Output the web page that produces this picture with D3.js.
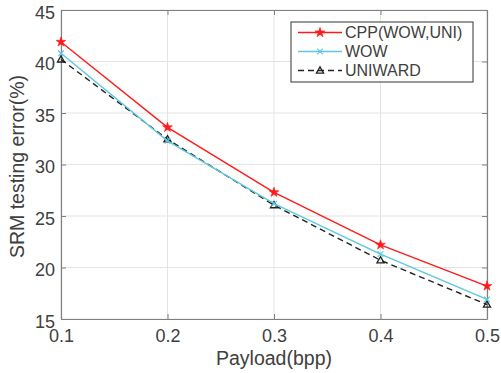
<!DOCTYPE html>
<html><head><meta charset="utf-8">
<script src="https://cdn.jsdelivr.net/npm/d3@7"></script>
<style>body{margin:0;background:#fff}svg{display:block}text{font-family:"Liberation Sans",Arial,sans-serif}</style>
</head><body><svg id="c" width="501" height="373"></svg>
<script>
const payload = [0.1, 0.2, 0.3, 0.4, 0.5];
const cpp = [41.9, 33.6, 27.3, 22.2, 18.2];
const wow = [40.8, 32.3, 26.2, 21.3, 16.9];
const uniward = [40.2, 32.45, 26.05, 20.7, 16.4];
const xTicks = [0.1, 0.2, 0.3, 0.4, 0.5];
const yTicks = [15, 20, 25, 30, 35, 40, 45];
const seriesNames = ["CPP(WOW,UNI)", "WOW", "UNIWARD"];

const svg = d3.select("#c");
const L = 61, R = 487, T = 10, B = 319;
const x = d3.scaleLinear().domain([0.1, 0.5]).range([L, R]);
const y = d3.scaleLinear().domain([15, 45]).range([B, T]);
const textCol = "#404040", axisCol = "#808080", gridCol = "#e3e3e3";

// grid
svg.append("g").selectAll("line").data(xTicks).join("line")
  .attr("x1", d => x(d)).attr("x2", d => x(d)).attr("y1", T).attr("y2", B)
  .attr("stroke", gridCol).attr("stroke-width", 1);
svg.append("g").selectAll("line").data(yTicks).join("line")
  .attr("x1", L).attr("x2", R).attr("y1", d => y(d)).attr("y2", d => y(d))
  .attr("stroke", gridCol).attr("stroke-width", 1);

// axes
const fmtX = d3.format(".1f");
const ax = svg.append("g").attr("transform", `translate(0,${B})`)
  .call(d3.axisBottom(x).tickValues(xTicks).tickFormat(fmtX).tickSizeInner(-5).tickSizeOuter(0).tickPadding(10));
const ay = svg.append("g").attr("transform", `translate(${L},0)`)
  .call(d3.axisLeft(y).tickValues(yTicks).tickSizeInner(-5).tickSizeOuter(0).tickPadding(6));
const axT = svg.append("g").attr("transform", `translate(0,${T})`)
  .call(d3.axisTop(x).tickValues(xTicks).tickFormat("").tickSizeInner(-5).tickSizeOuter(0));
const ayR = svg.append("g").attr("transform", `translate(${R},0)`)
  .call(d3.axisRight(y).tickValues(yTicks).tickFormat("").tickSizeInner(-5).tickSizeOuter(0));
[ax, ay, axT, ayR].forEach(g => {
  g.select(".domain").attr("stroke", axisCol).attr("stroke-width", 1.2);
  g.selectAll(".tick line").attr("stroke", axisCol).attr("stroke-width", 1);
  g.selectAll(".tick text").attr("fill", textCol).attr("font-size", 18)
   .attr("font-family", '"Liberation Sans",Arial,sans-serif');
});
ax.selectAll(".tick text").attr("dy", "0.71em");
ay.selectAll(".tick text").attr("dy", "0.47em");

// labels
svg.append("text").attr("x", (L + R) / 2).attr("y", 365).attr("text-anchor", "middle")
  .attr("font-size", 19.5).attr("fill", textCol).text("Payload(bpp)");
svg.append("text").attr("transform", `translate(24,${(T + B) / 2 + 2}) rotate(-90)`)
  .attr("text-anchor", "middle").attr("font-size", 19.5).attr("fill", textCol).text("SRM testing error(%)");

// series
const series = [
  {name: seriesNames[0], vals: cpp, color: "#ff1a1a", dash: null, marker: "star"},
  {name: seriesNames[1], vals: wow, color: "#5cc8e0", dash: null, marker: "x"},
  {name: seriesNames[2], vals: uniward, color: "#222222", dash: "6,4", marker: "tri"}
];
const line = d3.line().x((d, i) => x(payload[i])).y(d => y(d));
const starPath = d3.symbol(d3.symbolStar, 30)();
const triPath = d3.symbol(d3.symbolTriangle, 22)();
function drawMarker(g, type, color, cx, cy) {
  if (type === "star") {
    g.append("path").attr("d", starPath).attr("transform", `translate(${cx},${cy})`)
      .attr("fill", color).attr("stroke", color).attr("stroke-width", 0.6);
  } else if (type === "x") {
    const s = 2.8;
    g.append("path").attr("d", `M${cx - s},${cy - s}L${cx + s},${cy + s}M${cx - s},${cy + s}L${cx + s},${cy - s}`)
      .attr("stroke", color).attr("stroke-width", 1.2).attr("fill", "none");
  } else {
    g.append("path").attr("d", triPath).attr("transform", `translate(${cx},${cy + 0.5})`)
      .attr("fill", "none").attr("stroke", color).attr("stroke-width", 1.3);
  }
}
series.slice().reverse().forEach(s => {
  const g = svg.append("g");
  g.append("path").attr("d", line(s.vals)).attr("fill", "none").attr("stroke", s.color)
    .attr("stroke-width", 1.4).attr("stroke-dasharray", s.dash);
  s.vals.forEach((v, i) => drawMarker(g, s.marker, s.color, x(payload[i]), y(v)));
});

// legend
const lg = svg.append("g");
lg.append("rect").attr("x", 291).attr("y", 22).attr("width", 182).attr("height", 60)
  .attr("fill", "#fff").attr("stroke", "#333").attr("stroke-width", 1);
const rowY = [32.5, 51.5, 70.5];
series.forEach((s, i) => {
  lg.append("line").attr("x1", 298).attr("x2", 342).attr("y1", rowY[i]).attr("y2", rowY[i])
    .attr("stroke", s.color).attr("stroke-width", 1.4).attr("stroke-dasharray", s.dash);
  drawMarker(lg, s.marker, s.color, 320, rowY[i]);
  lg.append("text").attr("x", 345).attr("y", rowY[i]).attr("dy", "0.36em")
    .attr("font-size", 16).attr("fill", textCol).text(s.name);
});
</script></body></html>
